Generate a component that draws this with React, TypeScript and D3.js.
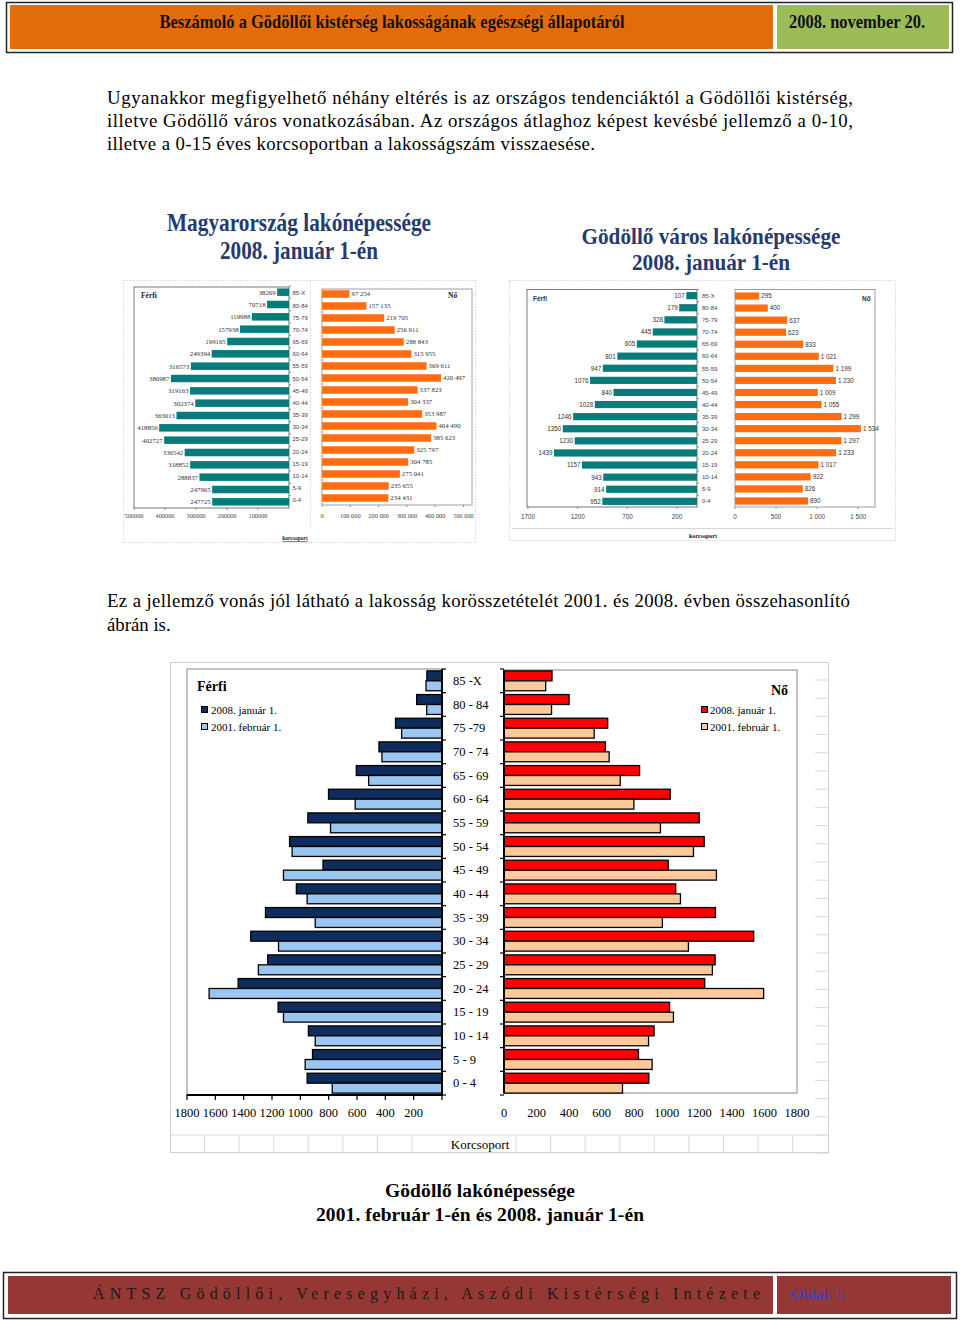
import React from "react";
import * as d3 from "d3";

// ---------- DATA ----------
const ageGroups = ["85 -X", "80 - 84", "75 -79", "70 - 74", "65 - 69", "60 - 64", "55 - 59", "50 - 54", "45 - 49", "40 - 44", "35 - 39", "30 - 34", "25 - 29", "20 - 24", "15 - 19", "10 - 14", "5 - 9", "0 - 4"];
const smallAges = ["85-X", "80-84", "75-79", "70-74", "65-69", "60-64", "55-59", "50-54", "45-49", "40-44", "35-39", "30-34", "25-29", "20-24", "15-19", "10-14", "5-9", "0-4"];

// Magyarország 2008
const huMale = [38269, 70718, 119988, 157938, 199165, 249394, 316573, 380987, 319163, 302374, 363013, 418856, 402727, 336542, 318852, 288837, 247965, 247725];
const huFemale = [97254, 157135, 219705, 256911, 288843, 315955, 369611, 420497, 337823, 304337, 353987, 404490, 385623, 325797, 304785, 275041, 235655, 234431];
const huMaleTicks = [500000, 400000, 300000, 200000, 100000];
const huFemaleTicks = [0, 100000, 200000, 300000, 400000, 500000];

// Gödöllő 2008 / 2001
const godMale2008 = [107, 179, 328, 445, 605, 801, 947, 1076, 840, 1028, 1246, 1350, 1230, 1439, 1157, 943, 914, 952];
const godFemale2008 = [295, 400, 637, 623, 833, 1021, 1199, 1230, 1009, 1055, 1299, 1534, 1297, 1233, 1017, 922, 826, 890];
const godMale2001 = [113, 108, 285, 424, 518, 613, 787, 1058, 1119, 952, 895, 1154, 1296, 1644, 1119, 895, 966, 775];
const godFemale2001 = [256, 292, 554, 646, 714, 798, 961, 1164, 1305, 1084, 973, 1133, 1280, 1595, 1041, 888, 910, 728];
const godMaleTicksSmall = [1700, 1200, 700, 200];
const godFemaleTicksSmall = [0, 500, 1000, 1500];
const bigLeftTicks = [1800, 1600, 1400, 1200, 1000, 800, 600, 400, 200];
const bigRightTicks = [0, 200, 400, 600, 800, 1000, 1200, 1400, 1600, 1800];
const legendLabels = ["2008. január 1.", "2001. február 1."];

const bodyLines1 = [
  "Ugyanakkor megfigyelhető néhány eltérés is az országos tendenciáktól a Gödöllői kistérség,",
  "illetve Gödöllő város vonatkozásában. Az országos átlaghoz képest kevésbé jellemző a 0-10,",
  "illetve a 0-15 éves korcsoportban a lakosságszám visszaesése.",
];
const bodyLines2 = [
  "Ez a jellemző vonás jól látható a lakosság korösszetételét 2001. és 2008. évben összehasonlító",
  "ábrán is.",
];

// ---------- STYLE ----------
const SERIF = "'Liberation Serif', 'DejaVu Serif', serif";
const SANS = "'Liberation Sans', Arial, sans-serif";
const C = {
  orange: "#e36c0a",
  green: "#9bbb59",
  footer: "#953735",
  navyTitle: "#263a6e",
  teal: "#077c7a",
  orangeBar: "#ff6d12",
  maleDark: "#0f2d5c",
  maleLight: "#9cc6f2",
  femDark: "#ff0000",
  femLight: "#fcc99a",
};

const spaced = (v: number) => d3.format(",")(v).replace(/,/g, " ");

function SmallPyramid(props: {
  male: number[]; female: number[];
  mx: d3.ScaleLinear<number, number>; fx: d3.ScaleLinear<number, number>;
  my: d3.ScaleBand<string>; fy: d3.ScaleBand<string>;
  mTicks: number[]; fTicks: number[];
  mFmt: (v: number) => string; fFmt: (v: number) => string;
  mTickFmt: (v: number) => string; fTickFmt: (v: number) => string;
  labelX: number; box: { mTop: number; mBottom: number; fTop: number; fBottom: number; fRight: number; mLeft: number };
  tickY: number; font: string; valueFont: string; barH: number; valueSize: number;
}) {
  const { male, female, mx, fx, my, fy, barH } = props;
  const b = props.box;
  return (
    <g>
      <rect x={b.mLeft} y={b.mTop} width={mx(0) - b.mLeft} height={b.mBottom - b.mTop} fill="none" stroke="#555" strokeWidth={0.8} />
      <rect x={fx(0)} y={b.fTop} width={b.fRight - fx(0)} height={b.fBottom - b.fTop} fill="none" stroke="#888" strokeWidth={0.8} />
      {smallAges.map((a, i) => (
        <g key={a}>
          <rect x={mx(male[i])} y={(my(a) as number) + (my.bandwidth() - barH) / 2} width={mx(0) - mx(male[i])} height={barH} fill={C.teal} />
          <text x={mx(male[i]) - 1.5} y={(my(a) as number) + my.bandwidth() / 2 + 2.4} fontSize={props.valueSize} fontFamily={props.valueFont} textAnchor="end" fill="#333">{props.mFmt(male[i])}</text>
          <rect x={fx(0)} y={(fy(a) as number) + (fy.bandwidth() - barH) / 2} width={fx(female[i]) - fx(0)} height={barH} fill={C.orangeBar} />
          <text x={fx(female[i]) + 2} y={(fy(a) as number) + fy.bandwidth() / 2 + 2.4} fontSize={props.valueSize} fontFamily={props.valueFont} fill="#333">{props.fFmt(female[i])}</text>
          <text x={props.labelX} y={((my(a) as number) + (fy(a) as number)) / 2 + my.bandwidth() / 2 + 2.2} fontSize={6} fontFamily={SANS} fill="#444">{a}</text>
          <line x1={mx(0)} x2={mx(0) + 2} y1={my(a) as number} y2={my(a) as number} stroke="#555" strokeWidth={0.6} />
        </g>
      ))}
      {props.mTicks.map((t) => (
        <g key={"m" + t}>
          <line x1={mx(t)} x2={mx(t)} y1={b.mBottom} y2={b.mBottom + 2} stroke="#555" strokeWidth={0.6} />
          <text x={mx(t)} y={props.tickY} fontSize={6.3} fontFamily={props.font} textAnchor="middle" fill="#444">{props.mTickFmt(t)}</text>
        </g>
      ))}
      {props.fTicks.map((t) => (
        <g key={"f" + t}>
          <line x1={fx(t)} x2={fx(t)} y1={b.fBottom} y2={b.fBottom + 2} stroke="#555" strokeWidth={0.6} />
          <text x={fx(t)} y={props.tickY} fontSize={6.3} fontFamily={props.font} textAnchor="middle" fill="#444">{props.fTickFmt(t)}</text>
        </g>
      ))}
    </g>
  );
}

export default function App() {
  const hmx = d3.scaleLinear().domain([0, 500000]).range([289, 134]);
  const hfx = d3.scaleLinear().domain([0, 500000]).range([322, 463.5]);
  const hmy = d3.scaleBand().domain(smallAges).range([286, 508]);
  const hfy = d3.scaleBand().domain(smallAges).range([288, 504]);

  const gmx = d3.scaleLinear().domain([0, 1700]).range([697, 528]);
  const gfx = d3.scaleLinear().domain([0, 1700]).range([735, 874.5]);
  const gmy = d3.scaleBand().domain(smallAges).range([289.6, 507.4]);
  const gfy = d3.scaleBand().domain(smallAges).range([290, 507]);

  const xL = d3.scaleLinear().domain([0, 1800]).range([442, 187]);
  const xR = d3.scaleLinear().domain([0, 1800]).range([504, 797]);
  const yB = d3.scaleBand().domain(ageGroups).range([669, 1095]);
  const B = yB.bandwidth();

  const gridYs = d3.range(0, 27).map((k) => 680 + 18.2 * k);
  const gridXs = d3.range(0, 18).map((k) => 204.5 + 34.6 * k).filter((x) => x < 440 || x > 515);

  return (
    <svg width={960} height={1320} viewBox="0 0 960 1320" style={{ position: "absolute", left: 0, top: 0, display: "block", background: "#fff" }}>
      <rect x={0} y={0} width={960} height={1320} fill="#fff" />

      {/* HEADER */}
      <rect x={6.5} y={2.5} width={946} height={50} fill="#fff" stroke="#222" strokeWidth={1.5} />
      <rect x={10} y={5} width={763} height={44} fill={C.orange} />
      <rect x={777} y={5} width={172} height={44} fill={C.green} />
      <text x={392} y={28} fontFamily={SERIF} fontWeight="bold" fontSize={19} textAnchor="middle" textLength={465} lengthAdjust="spacingAndGlyphs" fill="#111">Beszámoló a Gödöllői kistérség lakosságának egészségi állapotáról</text>
      <text x={857} y={28} fontFamily={SERIF} fontWeight="bold" fontSize={19} textAnchor="middle" textLength={136} lengthAdjust="spacingAndGlyphs" fill="#111">2008. november 20.</text>

      {/* BODY TEXT 1 */}
      {bodyLines1.map((l, i) => (
        <text key={i} x={107} y={104 + i * 23} fontFamily={SERIF} fontSize={18.8} fill="#000" textLength={i < 2 ? 746 : 488}>{l}</text>
      ))}

      {/* SMALL CHART TITLES */}
      <g fontFamily={SERIF} fontWeight="bold" fill={C.navyTitle} textAnchor="middle">
        <text x={299} y={231} fontSize={25} textLength={264} lengthAdjust="spacingAndGlyphs">Magyarország lakónépessége</text>
        <text x={299} y={259} fontSize={25} textLength={158} lengthAdjust="spacingAndGlyphs">2008. január 1-én</text>
        <text x={711} y={244} fontSize={24} textLength={259} lengthAdjust="spacingAndGlyphs">Gödöllő város lakónépessége</text>
        <text x={711} y={270} fontSize={24} textLength={158} lengthAdjust="spacingAndGlyphs">2008. január 1-én</text>
      </g>

      {/* SMALL CHART FRAMES */}
      <rect x={123.5} y={280.5} width={352} height={262} fill="none" stroke="#ccc" strokeDasharray="1.5 1.5" strokeWidth={0.8} />
      <line x1={310.5} x2={310.5} y1={281} y2={528} stroke="#ccc" strokeDasharray="1.5 1.5" strokeWidth={0.8} />
      <rect x={509.5} y={280.5} width={386} height={260} fill="none" stroke="#ccc" strokeDasharray="1.5 1.5" strokeWidth={0.8} />
      <line x1={512} x2={893} y1={528.5} y2={528.5} stroke="#ccc" strokeWidth={0.8} />

      <SmallPyramid
        male={huMale} female={huFemale} mx={hmx} fx={hfx} my={hmy} fy={hfy}
        mTicks={huMaleTicks} fTicks={huFemaleTicks}
        mFmt={(v) => String(v)} fFmt={spaced}
        mTickFmt={(v) => String(v)} fTickFmt={spaced}
        labelX={292.5}
        box={{ mTop: 287, mBottom: 508, fTop: 289, fBottom: 505, fRight: 472, mLeft: 134 }}
        tickY={518} font={SERIF} valueFont={SERIF} barH={7.5} valueSize={6.8}
      />
      <text x={141} y={298} fontSize={7.5} fontWeight="bold" fontFamily={SERIF} fill="#222">Férfi</text>
      <text x={448} y={298} fontSize={7.5} fontWeight="bold" fontFamily={SERIF} fill="#222">Nő</text>
      <text x={295} y={540} fontSize={5.5} fontWeight="bold" fontFamily={SERIF} textAnchor="middle" fill="#222" textDecoration="underline">korcsoport</text>

      <SmallPyramid
        male={godMale2008} female={godFemale2008} mx={gmx} fx={gfx} my={gmy} fy={gfy}
        mTicks={godMaleTicksSmall} fTicks={godFemaleTicksSmall}
        mFmt={(v) => String(v)} fFmt={(v) => (v >= 1000 ? spaced(v) : String(v))}
        mTickFmt={(v) => String(v)} fTickFmt={(v) => (v >= 1000 ? spaced(v) : String(v))}
        labelX={702}
        box={{ mTop: 289.5, mBottom: 507, fTop: 289.5, fBottom: 507, fRight: 875, mLeft: 527 }}
        tickY={519} font={SANS} valueFont={SANS} barH={7.2} valueSize={6.3}
      />
      <text x={533} y={301} fontSize={6.5} fontWeight="bold" fontFamily={SANS} fill="#333">Férfi</text>
      <text x={862} y={301} fontSize={6.5} fontWeight="bold" fontFamily={SANS} fill="#333">Nő</text>
      <text x={703} y={538} fontSize={6} fontWeight="bold" fontFamily={SERIF} textAnchor="middle" fill="#111">korcsoport</text>

      {/* BODY TEXT 2 */}
      {bodyLines2.map((l, i) => (
        <text key={i} x={107} y={607 + i * 24} fontFamily={SERIF} fontSize={18.8} fill="#000" {...(i < 1 ? { textLength: 743 } : {})}>{l}</text>
      ))}

      {/* BIG CHART */}
      <rect x={170.5} y={662.5} width={658} height={490} fill="#fff" stroke="#d0d0d0" strokeWidth={1} />
      {gridYs.map((y) => (
        <line key={"gy" + y} x1={815} x2={829} y1={y} y2={y} stroke="#dadada" strokeWidth={1} />
      ))}
      <line x1={171} x2={829} y1={1135} y2={1135} stroke="#dadada" strokeWidth={1} />
      {gridXs.map((x) => (
        <line key={"gx" + x} x1={x} x2={x} y1={1135} y2={1153} stroke="#dadada" strokeWidth={1} />
      ))}

      <rect x={187} y={669} width={255} height={426} fill="#fff" stroke="#9a9a9a" strokeWidth={1.2} />
      <rect x={504} y={670} width={293} height={423} fill="#fff" stroke="#9a9a9a" strokeWidth={1.2} />

      {ageGroups.map((a, i) => {
        const y0 = yB(a) as number;
        return (
          <g key={a}>
            <rect x={xL(godMale2008[i])} y={y0 + B * 0.08} width={xL(0) - xL(godMale2008[i])} height={B * 0.42} fill={C.maleDark} stroke="#000" strokeWidth={1.3} />
            <rect x={xL(godMale2001[i])} y={y0 + B * 0.5} width={xL(0) - xL(godMale2001[i])} height={B * 0.42} fill={C.maleLight} stroke="#000" strokeWidth={1.3} />
            <rect x={xR(0)} y={y0 + B * 0.08} width={xR(godFemale2008[i]) - xR(0)} height={B * 0.42} fill={C.femDark} stroke="#000" strokeWidth={1.3} />
            <rect x={xR(0)} y={y0 + B * 0.5} width={xR(godFemale2001[i]) - xR(0)} height={B * 0.42} fill={C.femLight} stroke="#000" strokeWidth={1.3} />
            <text x={453} y={y0 + B / 2 + 4.3} fontFamily={SERIF} fontSize={12.5} fill="#000">{a}</text>
          </g>
        );
      })}
      <line x1={442} x2={442} y1={669} y2={1095} stroke="#000" strokeWidth={2} />
      <line x1={504} x2={504} y1={670} y2={1093} stroke="#000" strokeWidth={2} />
      {d3.range(0, ageGroups.length + 1).map((k) => {
        const y = 669 + k * B;
        return (
          <g key={"t" + k}>
            <line x1={442} x2={446} y1={y} y2={y} stroke="#000" strokeWidth={1.2} />
            <line x1={500} x2={504} y1={y} y2={y} stroke="#000" strokeWidth={1.2} />
          </g>
        );
      })}
      <line x1={187} x2={443} y1={1095} y2={1095} stroke="#000" strokeWidth={2} />
      {d3.range(0, 1801, 200).map((t) => (
        <line key={"lt" + t} x1={xL(t)} x2={xL(t)} y1={1095} y2={1100} stroke="#000" strokeWidth={1.2} />
      ))}
      {bigLeftTicks.map((t) => (
        <text key={"ll" + t} x={xL(t)} y={1117} fontFamily={SERIF} fontSize={12.5} textAnchor="middle" fill="#000">{t}</text>
      ))}
      {bigRightTicks.map((t) => (
        <text key={"rl" + t} x={xR(t)} y={1117} fontFamily={SERIF} fontSize={12.5} textAnchor="middle" fill="#000">{t}</text>
      ))}

      <text x={197} y={691} fontFamily={SERIF} fontSize={14} fontWeight="bold" fill="#000">Férfi</text>
      <rect x={201.5} y={706.5} width={6} height={6} fill={C.maleDark} stroke="#000" strokeWidth={1} />
      <text x={211} y={714} fontFamily={SERIF} fontSize={11} fill="#000">{legendLabels[0]}</text>
      <rect x={201.5} y={723.5} width={6} height={6} fill={C.maleLight} stroke="#000" strokeWidth={1} />
      <text x={211} y={731} fontFamily={SERIF} fontSize={11} fill="#000">{legendLabels[1]}</text>

      <text x={788} y={695} fontFamily={SERIF} fontSize={14} fontWeight="bold" textAnchor="end" fill="#000">Nő</text>
      <rect x={701.5} y={706.5} width={6} height={6} fill={C.femDark} stroke="#000" strokeWidth={1} />
      <text x={710} y={714} fontFamily={SERIF} fontSize={11} fill="#000">{legendLabels[0]}</text>
      <rect x={701.5} y={723.5} width={6} height={6} fill={C.femLight} stroke="#000" strokeWidth={1} />
      <text x={710} y={731} fontFamily={SERIF} fontSize={11} fill="#000">{legendLabels[1]}</text>

      <text x={480} y={1149} fontFamily={SERIF} fontSize={13} textAnchor="middle" fill="#000">Korcsoport</text>

      {/* CAPTION */}
      <text x={480} y={1197} fontFamily={SERIF} fontSize={19.5} fontWeight="bold" textAnchor="middle" textLength={190} fill="#000">Gödöllő lakónépessége</text>
      <text x={480} y={1221} fontFamily={SERIF} fontSize={19.5} fontWeight="bold" textAnchor="middle" textLength={328} fill="#000">2001. február 1-én és 2008. január 1-én</text>

      {/* FOOTER */}
      <rect x={3.5} y={1272.5} width={953} height={46} fill="#fff" stroke="#222" strokeWidth={1.5} />
      <rect x={8} y={1276} width={765} height={38} fill={C.footer} />
      <rect x={777} y={1276} width={174} height={38} fill={C.footer} />
      <text x={93} y={1299} fontFamily={SERIF} fontSize={16} textLength={667} fill="#1a1a1a">ÁNTSZ Gödöllői, Veresegyházi, Aszódi Kistérségi Intézete</text>
      <text x={791} y={1299} fontFamily={SERIF} fontSize={15.5} textLength={54} lengthAdjust="spacingAndGlyphs" fill="#2f3fd0">Oldal: 5</text>
    </svg>
  );
}
